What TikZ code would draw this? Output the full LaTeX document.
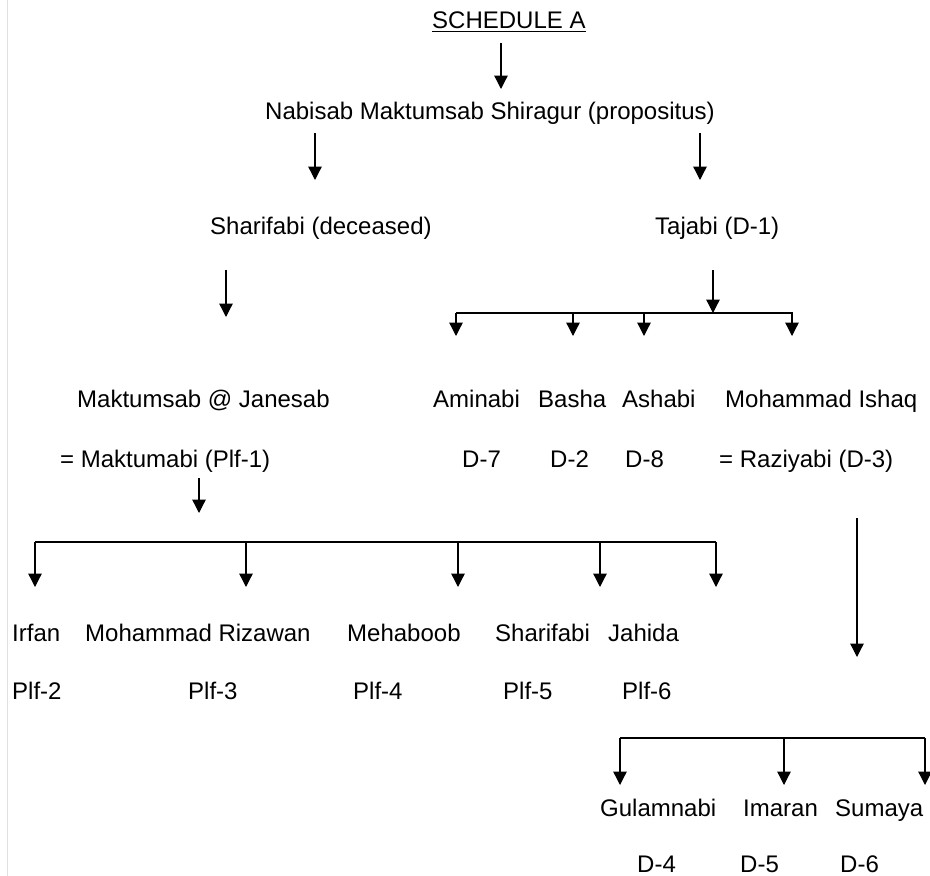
\documentclass[tikz,border=0pt]{standalone}
\usepackage{fontspec}
\setmainfont{Liberation Sans}
\usetikzlibrary{arrows.meta}
\tikzstyle{arrow} = [line width=1.3pt,-{Triangle[width=13.5pt,length=13.5pt]}]
\tikzstyle{bar} = [line width=1.3pt]
\tikzstyle{person} = [anchor=base west, inner sep=0pt, font=\fontsize{24}{28}\selectfont]

\begin{document}
\begin{tikzpicture}[x=1pt, y=-1pt]
        \useasboundingbox (0,0) rectangle (930,876);
        \draw[black!12, line width=1pt] (7,0) -- (7,876);

        % propositus
        \node[person] (title) at (432,28) {SCHEDULE A};
        \draw[bar] ([yshift=-3.5pt]title.base west) -- ([yshift=-3.5pt]title.base east);
        \node[person] (root) at (265,119) {Nabisab Maktumsab Shiragur (propositus)};
        \coordinate (t0) at (501,43);
        \coordinate (t1) at (501,89);
        \draw[arrow] (t0) -- (t1);

        % children
        \node[person] (sharifa) at (210,234) {Sharifabi (deceased)};
        \node[person] (tajabi) at (655,234) {Tajabi (D-1)};
        \coordinate (r0) at (315,133);
        \coordinate (r1) at (700,133);
        \draw[arrow] (r0) -- ++(0,47);
        \draw[arrow] (r1) -- ++(0,47);

        % sharifabi line
        \coordinate (s0) at (226,270);
        \draw[arrow] (s0) -- ++(0,47);
        \node[person] (maktum) at (77,407) {Maktumsab @ Janesab};
        \node[person] (maktuma) at (60,467) {= Maktumabi (Plf-1)};

        % tajabi line
        \coordinate (tj) at (713,270);
        \coordinate (tbarL) at (456,313);
        \coordinate (tbarR) at (793,313);
        \draw[arrow] (tj) -- (tj |- tbarL);
        \draw[bar] (tbarL) -- (tbarR);
        \foreach \x in {456,573,644,792}
            \draw[arrow] (\x,0 |- tbarL) -- ++(0,23);
        \node[person] (amina) at (433,407) {Aminabi};
        \node[person] (basha) at (538,407) {Basha};
        \node[person] (ashabi) at (622,407) {Ashabi};
        \node[person] (ishaq) at (725,407) {Mohammad Ishaq};
        \node[person] (d7) at (462,467) {D-7};
        \node[person] (d2) at (550,467) {D-2};
        \node[person] (d8) at (625,467) {D-8};
        \node[person] (raziya) at (719,467) {= Raziyabi (D-3)};

        % plaintiffs
        \coordinate (m0) at (199,478);
        \draw[arrow] (m0) -- ++(0,35);
        \coordinate (pbarL) at (35,542);
        \coordinate (pbarR) at (716,542);
        \draw[bar] (pbarL) -- (pbarR);
        \foreach \x in {35,246,458,600,716}
            \draw[arrow] (\x,0 |- pbarL) -- ++(0,45);
        \node[person] (irfan) at (12,641) {Irfan};
        \node[person] (rizawan) at (85,641) {Mohammad Rizawan};
        \node[person] (mehaboob) at (347,641) {Mehaboob};
        \node[person] (sharifb) at (495,641) {Sharifabi};
        \node[person] (jahida) at (608,641) {Jahida};
        \node[person] (p2) at (12,699) {Plf-2};
        \node[person] (p3) at (188,699) {Plf-3};
        \node[person] (p4) at (353,699) {Plf-4};
        \node[person] (p5) at (503,699) {Plf-5};
        \node[person] (p6) at (622,699) {Plf-6};

        % ishaq line
        \coordinate (i0) at (857,518);
        \draw[arrow] (i0) -- (857,657);
        \coordinate (ibarL) at (620,738);
        \coordinate (ibarR) at (925,738);
        \draw[bar] (ibarL) -- (ibarR);
        \foreach \x in {620,784,925}
            \draw[arrow] (\x,0 |- ibarL) -- ++(0,47);
        \node[person] (gulam) at (600,816) {Gulamnabi};
        \node[person] (imaran) at (743,816) {Imaran};
        \node[person] (sumaya) at (835,816) {Sumaya};
        \node[person] (d4) at (637,872) {D-4};
        \node[person] (d5) at (740,872) {D-5};
        \node[person] (d6) at (840,872) {D-6};

    \end{tikzpicture}
\end{document}
